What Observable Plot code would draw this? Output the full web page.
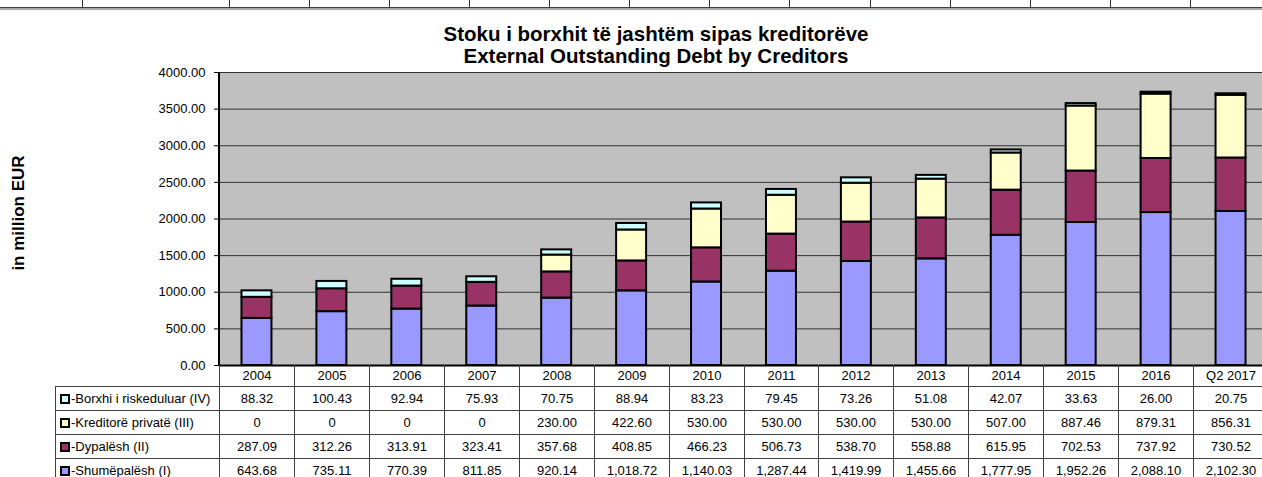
<!DOCTYPE html>
<html><head><meta charset="utf-8">
<script src="https://cdn.jsdelivr.net/npm/d3@7"></script>
<script src="https://cdn.jsdelivr.net/npm/@observablehq/plot@0.6"></script>
<style>
html,body{margin:0;padding:0;background:#fff;overflow:hidden;width:1262px;height:477px;}
body{font-family:"Liberation Sans",Arial,sans-serif;}
#wrap{position:absolute;left:0;top:0;width:1262px;height:477px;overflow:hidden;}
#wrap svg{position:absolute;left:0;top:0;max-width:none !important;}
.title{position:absolute;left:356px;width:600px;text-align:center;font-weight:bold;font-size:20.5px;line-height:22px;height:22px;color:#000;white-space:nowrap;}
.ylab{position:absolute;left:19px;top:213px;transform:translate(-50%,-50%) rotate(-90deg);font-weight:bold;font-size:17px;white-space:nowrap;color:#000;}
.cell{position:absolute;box-sizing:border-box;border:1px solid #404040;font-size:13px;color:#000;display:flex;align-items:center;justify-content:center;white-space:nowrap;background:transparent;}
.lab{justify-content:flex-start;padding-left:4px;}
.mk{display:inline-block;width:6px;height:6px;border:2px solid #000;margin-right:1px;}
.strip{position:absolute;background:#000;}
</style></head><body><div id="wrap"></div>
<script>
const years = ["2004","2005","2006","2007","2008","2009","2010","2011","2012","2013","2014","2015","2016","Q2 2017"];
const shumepalesh = [643.68,735.11,770.39,811.85,920.14,1018.72,1140.03,1287.44,1419.99,1455.66,1777.95,1952.26,2088.10,2102.30];
const dypalesh = [287.09,312.26,313.91,323.41,357.68,408.85,466.23,506.73,538.70,558.88,615.95,702.53,737.92,730.52];
const kreditore = [0,0,0,0,230.00,422.60,530.00,530.00,530.00,530.00,507.00,887.46,879.31,856.31];
const borxhi = [88.32,100.43,92.94,75.93,70.75,88.94,83.23,79.45,73.26,51.08,42.07,33.63,26.00,20.75];
const seriesNames = ["-Shumëpalësh (I)","-Dypalësh (II)","-Kreditorë privatë (III)","-Borxhi i riskeduluar (IV)"];
const seriesColors = ["#9999FF","#993366","#FFFFCC","#CCFFFF"];
const seriesValues = [shumepalesh, dypalesh, kreditore, borxhi];
const yTicks = [0,500,1000,1500,2000,2500,3000,3500,4000];
const titleLines = ["Stoku i borxhit të jashtëm sipas kreditorëve","External Outstanding Debt by Creditors"];
const yTitle = "in million EUR";
const stripLines = [82,229,309,389,469,549,629,709,789,870,950,1030,1110,1190];

const data = [];
years.forEach((yr, i) => seriesValues.forEach((vals, s) => data.push({year: yr, series: seriesNames[s], value: vals[i]})));

const wrap = document.getElementById("wrap");

function addDiv(cls, css, html) { const d = document.createElement("div"); d.className = cls; Object.assign(d.style, css); if (html != null) d.innerHTML = html; wrap.appendChild(d); return d; }
addDiv("strip", {left:"0px", top:"7px", width:"1262px", height:"1px", background:"#404040"});
addDiv("strip", {left:"0px", top:"8px", width:"1262px", height:"2px", background:"#a8a8a8"});
stripLines.forEach(x => addDiv("strip", {left: x + "px", top:"0px", width:"1px", height:"7px", background:"#303030"}));

function axisLine(index, scales, values, dims) {
  const g = document.createElementNS("http://www.w3.org/2000/svg", "g");
  const l = document.createElementNS("http://www.w3.org/2000/svg", "line");
  l.setAttribute("x1", dims.marginLeft); l.setAttribute("x2", dims.marginLeft);
  l.setAttribute("y1", dims.marginTop); l.setAttribute("y2", dims.height - dims.marginBottom);
  l.setAttribute("stroke", "#000"); l.setAttribute("stroke-width", 2);
  g.appendChild(l);
  return g;
}

const chart = Plot.plot({
  width: 1268, height: 477,
  marginTop: 72, marginBottom: 112, marginLeft: 219, marginRight: 0,
  style: {fontFamily: "'Liberation Sans', Arial, sans-serif", fontSize: "13px", background: "transparent", color: "#000", maxWidth: "none"},
  x: {domain: years, paddingInner: 0.6, paddingOuter: 0.3, round: false, axis: null},
  y: {domain: [0, 4000], ticks: yTicks, tickFormat: d3.format(".2f"), label: null},
  color: {domain: seriesNames, range: seriesColors},
  marks: [
    Plot.frame({fill: "#C0C0C0", stroke: "#808080"}),
    Plot.gridY(yTicks, {stroke: "#303030", strokeOpacity: 1, strokeWidth: 1}),
    Plot.axisY(yTicks, {tickSize: 5, tickPadding: 9, tickFormat: d3.format(".2f"), label: null, fontSize: 13}),
    Plot.barY(data, {x: "year", y: "value", fill: "series", stroke: "#000", strokeWidth: 2}),
    Plot.ruleY([0], {stroke: "#000", strokeWidth: 2}),
    axisLine
  ]
});
wrap.appendChild(chart);

titleLines.forEach((t, i) => addDiv("title", {top: (23 + i * 22) + "px"}, t));
addDiv("ylab", {}, yTitle);

const xs = chart.scale("x");
const step = xs.step;
const tableTop = 477 - 112;
const headH = 21, rowH = 24;
const labLeft = 55;
const fmt = v => v === 0 ? "0" : d3.format(",.2f")(v);
const colLeft = yr => Math.round(xs.apply(yr) + xs.bandwidth / 2 - step / 2);
const colW = i => (i < years.length - 1 ? colLeft(years[i + 1]) : Math.round(colLeft(years[i]) + step)) - colLeft(years[i]) + 1;
years.forEach((yr, i) => {
  addDiv("cell", {left: colLeft(yr) + "px", top: tableTop + "px", width: colW(i) + "px", height: (headH + 1) + "px", borderTop: "none"}, yr);
});
const tableRows = [3, 2, 1, 0];
tableRows.forEach((s, r) => {
  const top = tableTop + headH + r * rowH;
  const first = colLeft(years[0]);
  addDiv("cell lab", {left: labLeft + "px", top: top + "px", width: (first - labLeft + 1) + "px", height: (rowH + 1) + "px"},
    `<span class="mk" style="background:${seriesColors[s]}"></span>${seriesNames[s]}`);
  years.forEach((yr, i) => {
    addDiv("cell", {left: colLeft(yr) + "px", top: top + "px", width: colW(i) + "px", height: (rowH + 1) + "px"}, fmt(seriesValues[s][i]));
  });
});
</script></body></html>
